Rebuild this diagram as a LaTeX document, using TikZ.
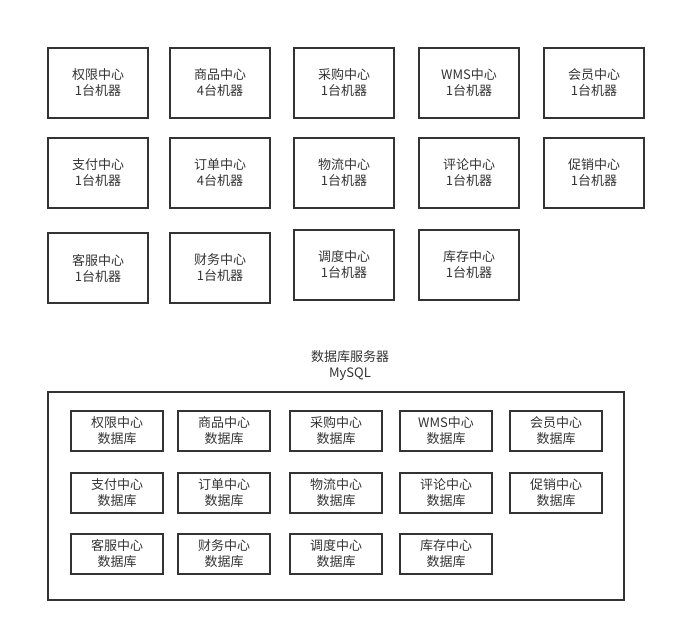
\documentclass[tikz,border=0pt]{standalone}
\usepackage{fontspec}
\setmainfont{Noto Sans CJK SC}
\definecolor{linegray}{RGB}{51, 51, 51}
\usepackage{tikz}
\usetikzlibrary{positioning}

\begin{document}
\begin{tikzpicture}[x=1pt, y=-1pt,
  svcbox/.style={draw=linegray, line width=1.8pt, text=linegray, minimum width=100pt, minimum height=70pt, inner sep=0pt, align=center, font=\fontsize{13}{16}\selectfont},
  dbbox/.style={draw=linegray, line width=1.8pt, text=linegray, minimum width=92pt, minimum height=40pt, inner sep=0pt, align=center, font=\fontsize{13}{16}\selectfont}]
  \useasboundingbox (0, 0) rectangle (676, 632);

  % Services
  \node[svcbox] (quanxian) at (98, 83) {权限中心\\1台机器};
  \node[svcbox] (shangpin) at (220, 83) {商品中心\\4台机器};
  \node[svcbox] (caigou) at (344, 83) {采购中心\\1台机器};
  \node[svcbox] (wms) at (469, 83) {WMS中心\\1台机器};
  \node[svcbox] (huiyuan) at (594, 83) {会员中心\\1台机器};

  \node[svcbox] (zhifu) at (98, 173) {支付中心\\1台机器};
  \node[svcbox] (dingdan) at (220, 173) {订单中心\\4台机器};
  \node[svcbox] (wuliu) at (344, 173) {物流中心\\1台机器};
  \node[svcbox] (pinglun) at (469, 173) {评论中心\\1台机器};
  \node[svcbox] (cuxiao) at (594, 173) {促销中心\\1台机器};

  \node[svcbox] (kefu) at (98, 268) {客服中心\\1台机器};
  \node[svcbox] (caiwu) at (220, 268) {财务中心\\1台机器};
  \node[svcbox] (diaodu) at (344, 265) {调度中心\\1台机器};
  \node[svcbox] (kucun) at (469, 265) {库存中心\\1台机器};

  % Database server
  \node[text=linegray, align=center, font=\fontsize{13}{16}\selectfont] (dbserver) at (350, 366) {数据库服务器\\MySQL};
  \node[draw=linegray, line width=1.8pt, minimum width=576pt, minimum height=208pt, inner sep=0pt] (mysql) at (336, 496) {};

  \node[dbbox] (quanxiandb) at (117, 431) {权限中心\\数据库};
  \node[dbbox] (shangpindb) at (224, 431) {商品中心\\数据库};
  \node[dbbox] (caigoudb) at (336, 431) {采购中心\\数据库};
  \node[dbbox] (wmsdb) at (446, 431) {WMS中心\\数据库};
  \node[dbbox] (huiyuandb) at (556, 431) {会员中心\\数据库};

  \node[dbbox] (zhifudb) at (117, 493) {支付中心\\数据库};
  \node[dbbox] (dingdandb) at (224, 493) {订单中心\\数据库};
  \node[dbbox] (wuliudb) at (336, 493) {物流中心\\数据库};
  \node[dbbox] (pinglundb) at (446, 493) {评论中心\\数据库};
  \node[dbbox] (cuxiaodb) at (556, 493) {促销中心\\数据库};

  \node[dbbox] (kefudb) at (117, 554) {客服中心\\数据库};
  \node[dbbox] (caiwudb) at (224, 554) {财务中心\\数据库};
  \node[dbbox] (diaodudb) at (336, 554) {调度中心\\数据库};
  \node[dbbox] (kucundb) at (446, 554) {库存中心\\数据库};
\end{tikzpicture}
\end{document}
